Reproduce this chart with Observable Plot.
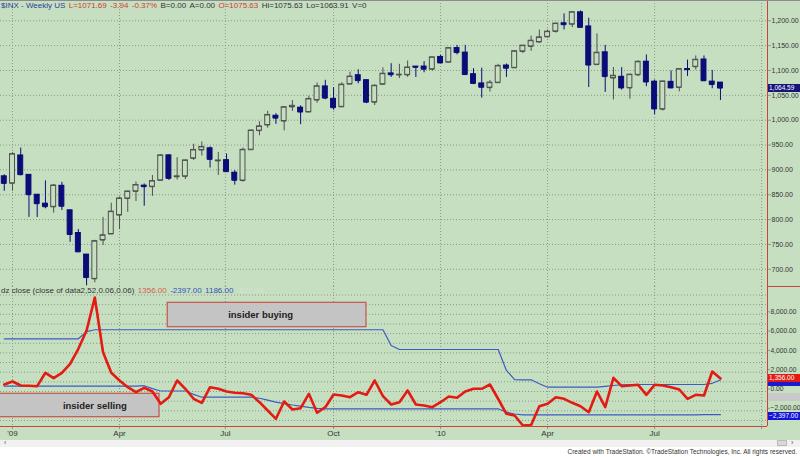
<!DOCTYPE html>
<html><head><meta charset="utf-8">
<script src="https://cdn.jsdelivr.net/npm/d3@7"></script>
<script src="https://cdn.jsdelivr.net/npm/@observablehq/plot@0.6"></script>
<style>
html,body{margin:0;padding:0;background:#fff;}
#wrap{position:relative;width:800px;height:457px;overflow:hidden;background:#c6dfc1;font-family:"Liberation Sans",Arial,sans-serif;}
#wrap svg{position:absolute;left:0;}
.ov{position:absolute;white-space:pre;font-size:8px;line-height:10px;}
.ov span{margin-right:3.4px;}
.vbox{position:absolute;left:768px;width:32px;height:8px;font-size:6.5px;line-height:8px;padding-left:1px;box-sizing:border-box;color:#fff;white-space:pre;overflow:visible;}
</style></head><body><div id="wrap"></div><script>
// ---------- data ----------
const firstWeek = "2008-12-26"; // weekly bars (Fridays)
const open  = [887,873,929,890,850,832,825.7,868,818.6,773,729.6,680.8,758.8,771,809,842.5,856.8,868.3,866.2,879,929.2,886.1,887,923.3,940,943.4,918.1,919.5,894.3,878.6,940.6,979,990.2,1008.9,998.2,1026.6,1025.2,1016.4,1040.5,1067.9,1043,1026.9,1072.6,1090.4,1080.4,1036.2,1072.2,1094.1,1091.1,1091.1,1107.8,1107.9,1102.5,1127.3,1116.6,1145,1136,1092.4,1073.9,1065.5,1075.5,1110,1105.4,1138.4,1148.5,1157.2,1167.7,1178.7,1194.9,1193,1217,1188.6,1111.8,1136.5,1084.8,1087.3,1064.9,1091.2,1117.7,1077.5,1022.1,1077.2,1065.8,1102.9,1107.5,1122.1,1077.6,1075.6];
const high  = [890,934.7,943.9,890.4,850,877.9,870.8,875,818.6,780,729.6,758.3,804.5,832.9,845.6,856.9,875.6,871.8,888.7,930.2,930.2,924.6,920,951.7,956.2,946.3,934.9,931.9,898.7,943.9,979.4,996.7,1018,1013.1,1027.6,1039.5,1028.9,1048.2,1074.8,1080.2,1065.4,1075.3,1096.6,1101.4,1081,1071.5,1105.4,1113.7,1112.4,1119.1,1107.8,1117.7,1126.5,1130.4,1145.4,1150.4,1150.5,1103.7,1104.7,1080,1112.4,1113,1139,1150,1169.2,1181.4,1181.4,1194.7,1213.9,1217.3,1219.8,1205.1,1173.6,1150.5,1106.1,1105.7,1092.5,1119.6,1131.2,1080.8,1078.2,1099.1,1103.7,1120.9,1129.2,1129.2,1100.1,1075.6];
const low   = [857,857,888,804.5,804.3,821.7,812.9,818.4,754.3,734.5,666.8,672.9,747.9,771,779.8,814.5,836.3,826.8,847,878.9,878.9,879.6,880.6,919,927.9,903.8,888.9,896.4,869.3,875.3,940.4,968.7,983.8,991.6,978.5,1017.7,991,1016.4,1034,1041.2,1020,1025.2,1072.6,1073.2,1033.4,1029.4,1072.2,1085.9,1083.7,1086.2,1085.9,1095.4,1098.9,1114.8,1116.6,1131.4,1090.2,1071.6,1044.5,1056.5,1075.5,1086,1105.4,1134,1138.5,1155.5,1165.2,1175.1,1181.6,1186.3,1185.8,1065.8,1111.8,1055.9,1040.8,1060.4,1042.2,1087.7,1067.4,1010.9,1018.4,1063.3,1056.9,1088,1100.8,1079.2,1063.3,1039.7];
const close = [872.8,931.8,890.4,850.1,832,825.9,868.6,826.8,770,735.1,683.4,756.6,768.5,816,842.5,856.6,869.6,866.2,877.5,929.2,882.9,887,919.1,940.1,946.2,921.2,918.9,896.4,879.1,940.4,979.3,987.5,1010.5,1004.1,1026.1,1028.9,1016.4,1042.7,1068.3,1044.4,1025.2,1071.5,1087.7,1079.6,1036.2,1069.3,1093.5,1091.4,1091.5,1106,1106.4,1102.5,1126.5,1115.1,1145,1136,1091.8,1073.9,1066.2,1075.5,1109.2,1104.5,1138.7,1150,1159.9,1166.6,1178.1,1194.4,1192.1,1217.3,1186.7,1110.9,1135.7,1087.7,1089.4,1064.9,1091.6,1117.5,1076.8,1022.6,1078,1064.9,1102.7,1101.6,1121.6,1079.3,1071.7,1064.6];

const dzClose = [725,1036,622,590,550,1938,1378,1938,2870,4425,6321,9741,4073,1938,1140,446,-73,383,0,-1275,-591,1140,280,-756,-1171,446,280,0,-135,-176,-342,-1109,-1969,-2829,-1036,-1865,-1731,-238,-2207,-1627,-311,-415,-591,-73,-342,1140,-487,-1347,-1109,104,-1347,-1451,-1627,-1109,-518,-653,0,280,280,725,-777,-2311,-2487,-3523,-3472,-1523,-1275,-591,-756,-1171,-1523,-2145,0,-1627,1420,549,622,694,-342,694,622,446,207,-756,-342,-415,2073,1356];
const bandUpper = [5460,5460,5460,5460,5460,5460,5460,5460,5460,5460,6200,6400,6400,6400,6400,6400,6400,6400,6400,6400,6400,6400,6400,6400,6400,6400,6400,6400,6400,6400,6400,6400,6400,6400,6400,6400,6400,6400,6400,6400,6400,6400,6400,6400,6400,6400,6400,4770,4350,4350,4350,4350,4350,4350,4350,4350,4350,4350,4350,4350,4350,2180,1240,1210,1210,800,446,446,446,446,446,446,446,530,622,700,725,725,725,725,725,725,725,725,725,725,850,1186];
const bandLower = [549,549,549,549,549,549,549,549,549,549,549,549,549,549,549,549,549,600,300,50,50,50,50,-300,-591,-591,-591,-591,-591,-591,-591,-700,-900,-1109,-1250,-1400,-1523,-1650,-1750,-1793,-1793,-1793,-1793,-1793,-1793,-1793,-1793,-1793,-1793,-1793,-1793,-1793,-1793,-1793,-1793,-1793,-1793,-1793,-1793,-1793,-1793,-2145,-2330,-2415,-2415,-2415,-2415,-2415,-2415,-2415,-2415,-2415,-2415,-2415,-2415,-2415,-2415,-2415,-2415,-2415,-2415,-2415,-2415,-2415,-2415,-2400,-2397,-2397];

const quarterDates  = ["2009-01-02","2009-04-03","2009-07-02","2009-10-02","2010-01-01","2010-04-02","2010-07-02","2010-10-01"];
const quarterLabels = ["'09","Apr","Jul","Oct","'10","Apr","Jul",""];
const priceTicks = [700,750,800,850,900,950,1000,1050,1100,1150,1200];
const dzTicks = [-2000,0,2000,4000,6000,8000];
const dzGrid = [-3000,-2000,-1000,0,1000,2000,3000,4000,5000,6000,7000,8000,9000,10000];

const notes = [
  {label:"insider buying",  x1:"2009-05-14", x2:"2009-10-30", xt:"2009-08-01", y1:6663, y2:9192},
  {label:"insider selling", x1:"2008-11-20", x2:"2009-05-07", xt:"2009-03-13", y1:-2663, y2:-238}
];

const headerParts = [["$INX - Weekly US","#2c3e9a"],["L=1071.69","#d23a32"],["-3.94","#d23a32"],["-0.37%","#d23a32"],["B=0.00","#333"],["A=0.00","#333"],["O=1075.63","#d23a32"],["Hi=1075.63","#333"],["Lo=1063.91","#333"],["V=0","#333"]];
const legendParts = [["dz close (close of data2,52,0.06,0.06)","#333"],["1356.00","#d85a50"],["-2397.00","#3550c0"],["1186.00","#3550c0"],["-620.00","#d4e2d2"]];
const lastPrice = 1064.59;
const lastDz = 1356, lastLower = -2397, lastUpper = 1186, lastFourth = -620;

// ---------- build ----------
const DAY = 864e5;
const t0 = Date.parse(firstWeek);
const weeks = open.map((o, i) => ({
  date: new Date(t0 + i * 7 * DAY),
  open: o, high: high[i], low: low[i], close: close[i],
  dz: dzClose[i], upper: bandUpper[i], lower: bandLower[i]
}));
weeks.forEach(d => { d.a = new Date(+d.date - 2.1 * DAY); d.b = new Date(+d.date + 2.1 * DAY); d.down = d.close < d.open; });
const qDates = quarterDates.map(s => new Date(s));
const qLabel = new Map(qDates.map((d, i) => [+d, quarterLabels[i]]));
const xDomain = [new Date("2008-12-22T19:06Z"), new Date("2010-10-06T00:00Z")];
const bg = "#c6dfc1", grid = "#889a86", frameRed = "#d0413a", navy = "#0c0c78", hollowStroke = "#505050";
const blue = "#3c5cc4", red = "#e31b12";
const gridDash = "1,2";

const wrap = document.getElementById("wrap");

const topPlot = Plot.plot({
  width: 800, height: 286, marginLeft: 0, marginRight: 33, marginTop: 0, marginBottom: 0,
  style: {background: "transparent", fontFamily: "Liberation Sans, Arial, sans-serif", fontSize: "7px", color: "#333", overflow: "visible"},
  x: {type: "utc", domain: xDomain, axis: null},
  y: {domain: [665.4, 1240.8], axis: null},
  marks: [
    Plot.gridY(priceTicks, {stroke: grid, strokeOpacity: 1, strokeDasharray: gridDash}),
    Plot.gridX(qDates, {stroke: grid, strokeOpacity: 1, strokeDasharray: gridDash}),
    Plot.axisY(priceTicks, {anchor: "right", tickFormat: d3.format(",.2f"), tickSize: 3, tickPadding: 1, fontSize: 7, stroke: grid}),
    Plot.ruleX(weeks, {x: "date", y1: "low", y2: "high", stroke: d => d.down ? navy : hollowStroke, strokeWidth: 1}),
    Plot.rect(weeks, {x1: "a", x2: "b", y1: "open", y2: "close", fill: d => d.down ? navy : bg, stroke: d => d.down ? navy : hollowStroke, strokeWidth: 1}),
    Plot.ruleY(weeks, {y: "open", x1: "a", x2: "b", stroke: d => d.down ? navy : hollowStroke}),
    Plot.ruleY(weeks, {y: "close", x1: "a", x2: "b", stroke: d => d.down ? navy : hollowStroke}),
    Plot.ruleX([xDomain[1]], {stroke: frameRed, strokeWidth: 1})
  ]
});
topPlot.style.top = "0px";
wrap.appendChild(topPlot);

const botPlot = Plot.plot({
  width: 800, height: 154, marginLeft: 0, marginRight: 33, marginTop: 0, marginBottom: 14,
  style: {background: "transparent", fontFamily: "Liberation Sans, Arial, sans-serif", fontSize: "7px", color: "#333", overflow: "visible"},
  x: {type: "utc", domain: xDomain, axis: null},
  y: {domain: [-3627, 10881], axis: null},
  marks: [
    Plot.gridY(dzGrid, {stroke: grid, strokeOpacity: 1, strokeDasharray: gridDash}),
    Plot.gridX(qDates, {stroke: grid, strokeOpacity: 1, strokeDasharray: gridDash}),
    Plot.axisY(dzTicks, {anchor: "right", tickFormat: d3.format(",.2f"), tickSize: 2, tickPadding: 1, fontSize: 6.7, stroke: grid, dy: -2.5}),
    Plot.axisX(qDates, {anchor: "bottom", tickFormat: d => qLabel.get(+d), tickSize: 3, tickPadding: 1, fontSize: 8, stroke: grid}),
    Plot.rect(notes, {x1: d => new Date(d.x1), x2: d => new Date(d.x2), y1: "y1", y2: "y2", fill: "#c4c4c4", stroke: "#c9534c", strokeWidth: 1.2}),
    Plot.text(notes, {x: d => new Date(d.xt), y: d => (d.y1 + d.y2) / 2, text: "label", fontSize: 9.5, fontWeight: "bold", fill: "#222"}),
    Plot.line(weeks, {x: "date", y: "upper", stroke: blue, strokeWidth: 1.2}),
    Plot.line(weeks, {x: "date", y: "lower", stroke: blue, strokeWidth: 1.2}),
    Plot.line(weeks, {x: "date", y: "dz", stroke: red, strokeWidth: 2.6, strokeLinejoin: "round"}),
    Plot.ruleX([xDomain[1]], {stroke: frameRed, strokeWidth: 1}),
    Plot.ruleY([-3627], {stroke: frameRed, strokeWidth: 1})
  ]
});
botPlot.style.top = "286px";
wrap.appendChild(botPlot);

// header / legend overlays
function overlay(parts, top) {
  const d = document.createElement("div");
  d.className = "ov"; d.style.left = "1px"; d.style.top = top + "px";
  parts.forEach(([t, c]) => { const s = document.createElement("span"); s.textContent = t; s.style.color = c; d.appendChild(s); });
  wrap.appendChild(d);
}
overlay(headerParts, 1);
overlay(legendParts, 286);

// top border
const tb = document.createElement("div");
tb.style.cssText = "position:absolute;left:0;top:0;width:800px;height:1px;background:#8c8c8c;";
wrap.appendChild(tb);
// red separator in the axis area
const sep = document.createElement("div");
sep.style.cssText = "position:absolute;left:767px;top:286px;width:33px;height:1px;background:" + frameRed + ";";
wrap.appendChild(sep);

// value boxes on the right axis (positions through the plots' own scales)
function vbox(y, text, bgc, fg) {
  const d = document.createElement("div");
  d.className = "vbox"; d.style.top = (y - 4) + "px"; d.style.background = bgc; d.style.color = fg; d.textContent = text;
  wrap.appendChild(d);
}
const fmt = d3.format(",.2f");
vbox(topPlot.scale("y").apply(lastPrice), fmt(lastPrice), "#14147a", "#fff");
const yb = v => 286 + botPlot.scale("y").apply(v);
vbox(yb(lastUpper) + 2, "", "#1a1ad0", "#fff");
vbox(yb(lastDz), fmt(lastDz), "#e41b12", "#fff");
vbox(yb(lastFourth), "", "#c8c8c8", "#fff");
vbox(yb(lastLower) + 1.5, fmt(lastLower), "#1414d8", "#fff");

// bottom strip and footer
const strip = document.createElement("div");
strip.style.cssText = "position:absolute;left:0;top:440px;width:800px;height:17px;background:#fff;";
wrap.appendChild(strip);
const scroll = document.createElement("div");
scroll.style.cssText = "position:absolute;left:0;top:440px;width:800px;height:7px;background:#f1f1f1;";
wrap.appendChild(scroll);
const lt = document.createElement("div");
lt.style.cssText = "position:absolute;left:4px;top:439px;font-size:7px;color:#555;";
lt.textContent = "‹";
wrap.appendChild(lt);
const thumb = document.createElement("div");
thumb.style.cssText = "position:absolute;left:777px;top:440px;width:10px;height:6px;background:#d8d8d8;border:1px solid #bbb;box-sizing:border-box;";
wrap.appendChild(thumb);
const rt = document.createElement("div");
rt.style.cssText = "position:absolute;left:791px;top:439px;font-size:7px;color:#555;";
rt.textContent = "›";
wrap.appendChild(rt);
const foot = document.createElement("div");
foot.style.cssText = "position:absolute;right:3px;top:447px;font-size:6.5px;line-height:10px;color:#333;white-space:pre;";
foot.textContent = "Created with TradeStation. ©TradeStation Technologies, Inc. All rights reserved.";
wrap.appendChild(foot);
</script></body></html>
